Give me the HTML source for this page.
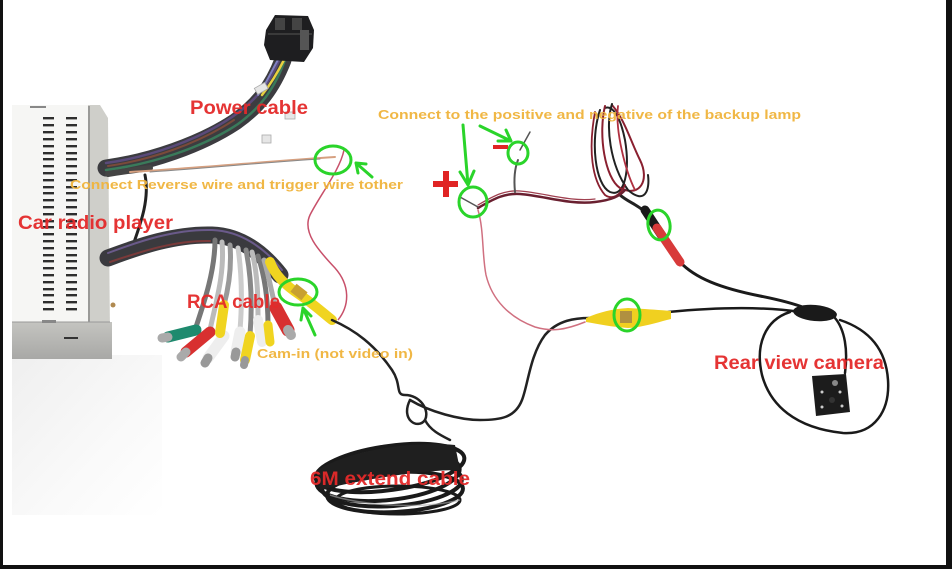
<!DOCTYPE html>
<html>
<head>
<meta charset="utf-8">
<style>
html,body{margin:0;padding:0;background:#fff;}
body{width:952px;height:569px;overflow:hidden;position:relative;}
svg{position:absolute;left:0;top:0;}
text{font-family:"Liberation Sans",Arial,sans-serif;font-weight:bold;}
</style>
</head>
<body>
<svg width="952" height="569" viewBox="0 0 952 569" xmlns="http://www.w3.org/2000/svg">
<defs>
<linearGradient id="shadow" x1="0" y1="0" x2="1" y2="1">
<stop offset="0" stop-color="#e4e4e4"/>
<stop offset="0.6" stop-color="#f6f6f6"/>
<stop offset="1" stop-color="#ffffff"/>
</linearGradient>
<linearGradient id="front" x1="0" y1="0" x2="0" y2="1">
<stop offset="0" stop-color="#c4c4c0"/>
<stop offset="1" stop-color="#a8a8a6"/>
</linearGradient>
</defs>
<rect x="0" y="0" width="952" height="569" fill="#ffffff"/>

<!-- shadow under radio -->
<rect x="12" y="355" width="150" height="160" fill="url(#shadow)" opacity="0.6"/>

<!-- radio box -->
<rect x="12" y="105" width="78" height="220" fill="#f6f6f4"/>
<polygon points="88,105 100,105 108,118 110,335 92,335 88,325" fill="#cfcfca"/>
<line x1="89" y1="106" x2="89" y2="325" stroke="#888" stroke-width="1.5"/>
<rect x="12" y="322" width="100" height="37" fill="url(#front)"/>
<line x1="12" y1="322" x2="110" y2="322" stroke="#999" stroke-width="1"/>
<rect x="42" y="320" width="14" height="3" fill="#888"/>
<rect x="64" y="337" width="14" height="2" fill="#333"/>
<rect x="30" y="106" width="16" height="2" fill="#888"/>
<g fill="#2e2e2e">
<rect x="43" y="117" width="11" height="2.4"/><rect x="66" y="117" width="11" height="2.4"/>
<rect x="43" y="124" width="11" height="2.4"/><rect x="66" y="124" width="11" height="2.4"/>
<rect x="43" y="131" width="11" height="2.4"/><rect x="66" y="131" width="11" height="2.4"/>
<rect x="43" y="138" width="11" height="2.4"/><rect x="66" y="138" width="11" height="2.4"/>
<rect x="43" y="145" width="11" height="2.4"/><rect x="66" y="145" width="11" height="2.4"/>
<rect x="43" y="152" width="11" height="2.4"/><rect x="66" y="152" width="11" height="2.4"/>
<rect x="43" y="158" width="11" height="2.4"/><rect x="66" y="158" width="11" height="2.4"/>
<rect x="43" y="165" width="11" height="2.4"/><rect x="66" y="165" width="11" height="2.4"/>
<rect x="43" y="172" width="11" height="2.4"/><rect x="66" y="172" width="11" height="2.4"/>
<rect x="43" y="179" width="11" height="2.4"/><rect x="66" y="179" width="11" height="2.4"/>
<rect x="43" y="186" width="11" height="2.4"/><rect x="66" y="186" width="11" height="2.4"/>
<rect x="43" y="192" width="11" height="2.4"/><rect x="66" y="192" width="11" height="2.4"/>
<rect x="43" y="199" width="11" height="2.4"/><rect x="66" y="199" width="11" height="2.4"/>
<rect x="43" y="206" width="11" height="2.4"/><rect x="66" y="206" width="11" height="2.4"/>
<rect x="43" y="213" width="11" height="2.4"/><rect x="66" y="213" width="11" height="2.4"/>
<rect x="43" y="220" width="11" height="2.4"/><rect x="66" y="220" width="11" height="2.4"/>
<rect x="43" y="226" width="11" height="2.4"/><rect x="66" y="226" width="11" height="2.4"/>
<rect x="43" y="233" width="11" height="2.4"/><rect x="66" y="233" width="11" height="2.4"/>
<rect x="43" y="240" width="11" height="2.4"/><rect x="66" y="240" width="11" height="2.4"/>
<rect x="43" y="247" width="11" height="2.4"/><rect x="66" y="247" width="11" height="2.4"/>
<rect x="43" y="254" width="11" height="2.4"/><rect x="66" y="254" width="11" height="2.4"/>
<rect x="43" y="260" width="11" height="2.4"/><rect x="66" y="260" width="11" height="2.4"/>
<rect x="43" y="267" width="11" height="2.4"/><rect x="66" y="267" width="11" height="2.4"/>
<rect x="43" y="274" width="11" height="2.4"/><rect x="66" y="274" width="11" height="2.4"/>
<rect x="43" y="281" width="11" height="2.4"/><rect x="66" y="281" width="11" height="2.4"/>
<rect x="43" y="288" width="11" height="2.4"/><rect x="66" y="288" width="11" height="2.4"/>
<rect x="43" y="294" width="11" height="2.4"/><rect x="66" y="294" width="11" height="2.4"/>
<rect x="43" y="301" width="11" height="2.4"/><rect x="66" y="301" width="11" height="2.4"/>
<rect x="43" y="308" width="11" height="2.4"/><rect x="66" y="308" width="11" height="2.4"/>
</g>
<circle cx="113" cy="305" r="2.5" fill="#b08a50"/>

<!-- power harness -->
<g fill="none" stroke-linecap="round">
<path d="M106,168 C150,162 200,145 235,122 C258,106 272,88 283,60" stroke="#3c3c40" stroke-width="17"/>
<path d="M106,163 C150,157 198,140 232,117 C255,101 270,84 280,58" stroke="#5a4a7a" stroke-width="2.5"/>
<path d="M106,170 C152,164 202,148 238,124 C260,108 274,90 285,60" stroke="#3a7a5a" stroke-width="2.5"/>
<path d="M108,166 C150,160 198,144 234,120" stroke="#7a4a3a" stroke-width="2"/>
<path d="M262,95 C270,85 278,72 285,58" stroke="#e8d040" stroke-width="2.5"/>
<path d="M258,95 C266,84 272,70 279,58" stroke="#8080c0" stroke-width="2"/>
<path d="M108,174 C120,172 135,170 150,168" stroke="#444" stroke-width="6"/>
<!-- reverse wire -->
<path d="M130,172 C200,168 260,162 335,157" stroke="#d6a080" stroke-width="2"/>
<path d="M150,172 C210,168 270,162 320,159" stroke="#888" stroke-width="1"/>
<path d="M145,175 C150,200 140,225 132,248" stroke="#222" stroke-width="3"/>
</g>
<!-- white small connectors -->
<rect x="255" y="85" width="12" height="7" fill="#e6e6e6" stroke="#aaa" stroke-width="0.8" transform="rotate(-30 261 88)"/>
<rect x="285" y="112" width="10" height="7" fill="#e6e6e6" stroke="#aaa" stroke-width="0.8"/>
<rect x="262" y="135" width="9" height="8" fill="#e6e6e6" stroke="#aaa" stroke-width="0.8"/>
<!-- power connector block -->
<polygon points="266,30 275,15 308,16 314,30 313,48 304,62 270,60 264,45" fill="#1e1e20"/>
<rect x="275" y="18" width="10" height="12" fill="#444"/>
<rect x="292" y="18" width="10" height="12" fill="#444"/>
<rect x="300" y="30" width="9" height="20" fill="#555"/>
<line x1="268" y1="34" x2="312" y2="34" stroke="#555" stroke-width="1"/>

<!-- RCA harness -->
<g fill="none" stroke-linecap="round">
<path d="M108,258 C140,246 175,234 212,235 C240,236 262,252 280,275" stroke="#3a3a3e" stroke-width="17"/>
<path d="M108,253 C140,241 175,229 212,230 C240,231 264,247 282,270" stroke="#6a5a8a" stroke-width="2"/>
<path d="M110,262 C140,252 175,240 210,241" stroke="#7a3a3a" stroke-width="2"/>
<path d="M215,240 C215,270 205,300 195,330" stroke="#777" stroke-width="5"/>
<path d="M222,242 C225,275 215,305 210,330" stroke="#bbb" stroke-width="5"/>
<path d="M230,245 C232,270 228,290 224,305" stroke="#999" stroke-width="5"/>
<path d="M238,248 C242,275 242,305 240,330" stroke="#ccc" stroke-width="5"/>
<path d="M246,250 C252,280 252,310 250,335" stroke="#888" stroke-width="5"/>
<path d="M252,252 C258,275 258,300 258,320" stroke="#bbb" stroke-width="5"/>
<path d="M258,256 C266,280 268,305 268,325" stroke="#777" stroke-width="5"/>
<path d="M264,260 C270,280 272,295 275,305" stroke="#aaa" stroke-width="5"/>
</g>
<!-- RCA plugs -->
<g stroke-linecap="round">
<line x1="196" y1="330" x2="168" y2="337" stroke="#1e8a6e" stroke-width="11"/>
<line x1="168" y1="337" x2="162" y2="338" stroke="#aaa" stroke-width="9"/>
<line x1="210" y1="332" x2="186" y2="352" stroke="#d83030" stroke-width="11"/>
<line x1="186" y1="352" x2="181" y2="357" stroke="#aaa" stroke-width="9"/>
<line x1="224" y1="336" x2="208" y2="358" stroke="#eeeeee" stroke-width="11"/>
<line x1="208" y1="358" x2="205" y2="363" stroke="#999" stroke-width="9"/>
<line x1="224" y1="305" x2="220" y2="333" stroke="#f0d420" stroke-width="10"/>
<line x1="240" y1="332" x2="236" y2="352" stroke="#eeeeee" stroke-width="11"/>
<line x1="236" y1="352" x2="235" y2="357" stroke="#999" stroke-width="9"/>
<line x1="250" y1="336" x2="245" y2="360" stroke="#f0d420" stroke-width="10"/>
<line x1="245" y1="360" x2="244" y2="365" stroke="#999" stroke-width="8"/>
<line x1="258" y1="320" x2="262" y2="342" stroke="#eeeeee" stroke-width="10"/>
<line x1="268" y1="325" x2="270" y2="342" stroke="#f0d420" stroke-width="9"/>
<line x1="276" y1="308" x2="288" y2="330" stroke="#d83030" stroke-width="13"/>
<line x1="288" y1="330" x2="291" y2="335" stroke="#aaa" stroke-width="10"/>
<path d="M270,262 C275,275 285,285 300,295 C312,303 322,312 332,320" fill="none" stroke="#f0d420" stroke-width="10"/>
<rect x="292" y="287" width="14" height="10" fill="#c8a030" transform="rotate(38 299 292)"/>
</g>

<!-- thin red trigger wire -->
<path d="M344,150 C340,170 320,195 310,215 C302,232 318,250 335,268 C350,285 350,305 338,320" fill="none" stroke="#c8506a" stroke-width="1.5"/>

<!-- black cable from cam-in to coil -->
<g fill="none" stroke="#222" stroke-linecap="round">
<path d="M332,320 C355,330 375,345 392,370 C402,385 395,395 405,395 C420,395 430,410 425,420 C418,430 400,420 410,400" stroke-width="2.5"/>
<path d="M410,400 C430,412 460,420 480,420 C500,420 515,418 522,400 C528,385 530,355 545,335 C558,320 575,318 590,318" stroke-width="2.5"/>
<path d="M425,420 C430,430 440,435 450,440" stroke-width="2.5"/>
</g>

<!-- 6M coil -->
<g fill="none" stroke="#1a1a1a" stroke-width="4">
<ellipse cx="390" cy="468" rx="75" ry="22" transform="rotate(-8 390 468)"/>
<ellipse cx="388" cy="476" rx="72" ry="24" transform="rotate(-6 388 476)"/>
<ellipse cx="392" cy="484" rx="70" ry="22" transform="rotate(-4 392 484)"/>
<ellipse cx="395" cy="492" rx="68" ry="20" transform="rotate(-3 395 492)"/>
<ellipse cx="398" cy="500" rx="62" ry="14" stroke-width="3"/>
</g>
<path d="M318,470 C340,455 400,440 455,445 L460,470 C420,470 360,480 320,490 Z" fill="#1f1f1f"/>
<path d="M330,495 C360,505 420,510 460,500" fill="none" stroke="#aaa" stroke-width="1.5" opacity="0.6"/>

<!-- backup lamp wires -->
<g fill="none" stroke-linecap="round">
<path d="M600,110 C590,140 595,185 610,192 C625,198 630,170 625,140 C620,115 612,105 605,108" stroke="#222" stroke-width="2"/>
<path d="M605,106 C598,135 605,178 620,188 C640,198 650,180 640,160 C630,140 625,120 612,105" stroke="#8a2030" stroke-width="2"/>
<path d="M612,104 C605,125 610,165 628,190 C645,205 650,190 648,175" stroke="#222" stroke-width="2"/>
<path d="M595,112 C588,150 592,180 605,195 C612,200 620,196 625,185" stroke="#8a2030" stroke-width="1.8"/>
<path d="M618,106 C615,130 625,170 635,190" stroke="#b03040" stroke-width="1.8"/>
<path d="M620,195 C628,202 638,205 645,212" stroke="#222" stroke-width="3"/>
<path d="M478,208 C495,198 505,193 520,194 C545,196 570,205 595,202 C612,200 620,196 625,190" stroke="#6a2030" stroke-width="2.5"/>
<path d="M478,205 C495,195 505,190 520,191 C545,193 570,202 595,199" stroke="#a04050" stroke-width="1.2"/>
<path d="M518,160 C514,170 514,182 515,192" stroke="#555" stroke-width="2"/>
<path d="M520,150 L530,132" stroke="#555" stroke-width="1.5"/>
<path d="M460,197 L478,207" stroke="#555" stroke-width="1.5"/>
<path d="M478,210 C484,230 482,255 486,275 C492,300 510,318 535,327 C552,332 565,330 585,322" stroke="#d07080" stroke-width="1.5"/>
<path d="M680,262 C695,278 720,288 760,296 C780,300 795,304 805,308" stroke="#1a1a1a" stroke-width="3"/>
<path d="M668,312 C710,308 760,306 800,312" stroke="#1a1a1a" stroke-width="2.5"/>
<path d="M790,312 C765,320 755,345 762,375 C770,405 795,428 843,433 C875,435 890,410 888,380 C886,350 870,330 840,320" stroke="#1a1a1a" stroke-width="2.5"/>
<path d="M835,318 C845,330 848,350 845,373" stroke="#1a1a1a" stroke-width="2.5"/>
</g>
<!-- red connector -->
<g stroke-linecap="round">
<line x1="645" y1="210" x2="662" y2="236" stroke="#1a1a1a" stroke-width="9"/>
<line x1="657" y1="228" x2="680" y2="262" stroke="#d83a3a" stroke-width="9"/>
</g>
<!-- yellow connector -->
<path d="M586,318 C600,312 612,309 628,308 C645,309 658,310 671,311 L671,319 C658,322 645,327 628,328 C612,327 598,324 586,322 Z" fill="#f0d020"/>
<rect x="620" y="311" width="12" height="12" fill="#b09040"/>
<!-- splitter -->
<ellipse cx="815" cy="313" rx="22" ry="8" fill="#1a1a1a" transform="rotate(5 815 313)"/>
<!-- camera -->
<polygon points="812,376 846,374 850,412 816,416" fill="#1c1c1c"/>
<circle cx="835" cy="383" r="3" fill="#888"/>
<circle cx="822" cy="392" r="1.5" fill="#ccc"/>
<circle cx="840" cy="392" r="1.5" fill="#ccc"/>
<circle cx="822" cy="407" r="1.5" fill="#ccc"/>
<circle cx="842" cy="406" r="1.5" fill="#ccc"/>
<circle cx="832" cy="400" r="3" fill="#333"/>

<!-- green circles and arrows -->
<g fill="none" stroke="#2ad42a" stroke-width="3" stroke-linecap="round" stroke-linejoin="round">
<ellipse cx="333" cy="160" rx="18" ry="14"/>
<path d="M372,177 L356,163 M356,163 L358,173 M356,163 L366,164"/>
<ellipse cx="473" cy="202" rx="14" ry="15"/>
<path d="M463,125 L468,185 M468,185 L460,172 M468,185 L474,171"/>
<ellipse cx="518" cy="153" rx="10" ry="11"/>
<path d="M480,126 L511,141 M511,141 L498,141 M511,141 L506,130"/>
<ellipse cx="659" cy="225" rx="11" ry="15" transform="rotate(-10 659 225)"/>
<ellipse cx="627" cy="315" rx="13" ry="16"/>
<ellipse cx="298" cy="292" rx="19" ry="13"/>
<path d="M315,335 L303,308 M303,308 L301,320 M303,308 L311,316"/>
</g>

<!-- + and - -->
<rect x="433" y="181" width="25" height="6" fill="#e02424"/>
<rect x="443" y="171" width="6" height="26" fill="#e02424"/>
<rect x="493" y="145" width="15" height="4" fill="#e02424"/>

<!-- labels -->
<g fill="#e42a2a" font-size="19" opacity="0.95">
<text x="190" y="114" textLength="118" lengthAdjust="spacingAndGlyphs">Power cable</text>
<text x="18" y="229" textLength="155" lengthAdjust="spacingAndGlyphs">Car radio player</text>
<text x="187" y="308" textLength="93" lengthAdjust="spacingAndGlyphs">RCA cable</text>
<text x="310" y="485" textLength="160" lengthAdjust="spacingAndGlyphs">6M extend cable</text>
<text x="714" y="369" textLength="170" lengthAdjust="spacingAndGlyphs">Rear view camera</text>
</g>
<g fill="#f0b43c" font-size="13" opacity="0.95">
<text x="378" y="119" textLength="423" lengthAdjust="spacingAndGlyphs">Connect to the positive and negative of the backup lamp</text>
<text x="70" y="189" textLength="333" lengthAdjust="spacingAndGlyphs">Connect Reverse wire and trigger wire tother</text>
<text x="257" y="358" textLength="156" lengthAdjust="spacingAndGlyphs">Cam-in (not video in)</text>
</g>

<!-- borders -->
<rect x="0" y="0" width="3" height="569" fill="#111"/>
<rect x="946" y="0" width="6" height="569" fill="#111"/>
<rect x="0" y="565" width="952" height="4" fill="#111"/>
</svg>
</body>
</html>
